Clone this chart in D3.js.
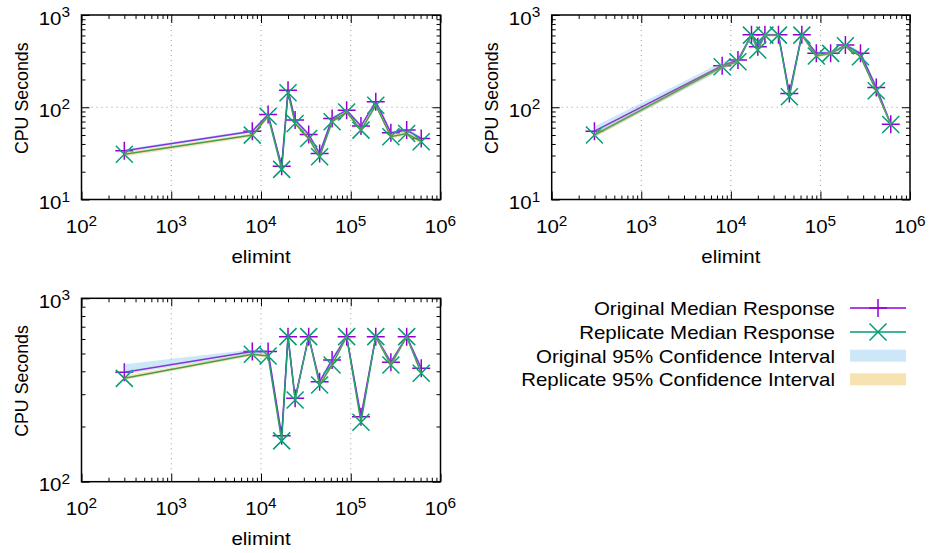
<!DOCTYPE html>
<html><head><meta charset="utf-8">
<script src="https://cdn.jsdelivr.net/npm/d3@7"></script>
<style>
body{margin:0;background:#fff}
svg{display:block}
text{font-family:"Liberation Sans",Arial,Helvetica,sans-serif;fill:#000}
</style>
</head><body>
<svg id="c" width="930" height="553"></svg>
<script>
// ---------------- data ----------------
const elimint = [300, 8000, 12000, 17000, 20000, 24000, 34000, 45000, 62000, 90000, 130000, 190000, 280000, 420000, 610000];

// panel 1 (top left)
const orig1   = [33.7, 55, 83.6, 23, 153, 72.6, 50.7, 31.5, 75.6, 93, 62.5, 115, 52.8, 56.5, 45.9];
const repl1   = [31.0, 49.9, 80, 21.2, 143.5, 66.8, 45.9, 29, 69.7, 89, 56.5, 105, 47.9, 52, 42.3];
const origLo1 = [32.5, 53, 80, 22, 147, 69.5, 48.5, 30.2, 72.5, 89.5, 60, 110, 50.5, 54, 44];
const origHi1 = [35, 57, 87, 24, 159, 75.5, 53, 33, 79, 96.5, 65, 120, 55, 59, 48];
const replLo1 = [29.3, 47.5, 77, 20.3, 137, 63.5, 43.5, 27.8, 66.5, 85, 54, 100, 45.5, 49.5, 40];
const replHi1 = [32.5, 52, 83, 22.2, 150, 70, 48.5, 30.3, 73, 93, 59, 110, 50.5, 54.5, 44.5];

// panel 2 (top right)
const orig2   = [55, 282, 325, 610, 453, 610, 610, 141, 610, 384, 384, 473, 384, 164, 65.6];
const repl2   = [50, 275, 312, 605, 417, 605, 605, 130, 605, 359, 384, 464, 353, 151, 65];
const origLo2 = [48, 255, 305, 590, 425, 590, 590, 132, 590, 362, 365, 450, 362, 152, 61];
const origHi2 = [62, 310, 345, 630, 480, 630, 630, 150, 630, 405, 402, 495, 405, 176, 70];
const replLo2 = [47, 262, 298, 585, 400, 585, 585, 123, 585, 345, 370, 448, 340, 143, 62];
const replHi2 = [53, 290, 326, 620, 435, 620, 620, 137, 620, 373, 398, 480, 367, 159, 68];

// panel 3 (bottom left)
const orig3   = [395, 512, 512, 178, 618, 285, 618, 351, 461, 618, 226, 618, 448, 618, 415];
const repl3   = [366, 495, 485, 167, 618, 279, 618, 337, 433, 618, 211, 618, 433, 618, 390];
const origLo3 = [385, 495, 500, 172, 605, 276, 605, 340, 445, 605, 219, 605, 435, 605, 402];
const origHi3 = [437, 525, 524, 184, 631, 294, 631, 362, 477, 631, 233, 631, 461, 631, 428];
const replLo3 = [358, 484, 474, 162, 605, 272, 605, 329, 422, 605, 205, 605, 420, 605, 380];
const replHi3 = [378, 505, 496, 172, 631, 287, 631, 346, 445, 631, 218, 631, 446, 631, 401];

// ticks & labels
const xMajor = [1e2, 1e3, 1e4, 1e5, 1e6];
const xExp   = ["2", "3", "4", "5", "6"];
const yMajorA = [1e1, 1e2, 1e3];
const yExpA   = ["1", "2", "3"];
const yMajorB = [1e2, 1e3];
const yExpB   = ["2", "3"];
const xTitle = "elimint";
const yTitle = "CPU Seconds";
const legendLabels = ["Original Median Response", "Replicate Median Response",
                      "Original 95% Confidence Interval", "Replicate 95% Confidence Interval"];

// ---------------- style ----------------
const C_ORIG = "#9400d3", C_REPL = "#009e73";
const C_OBAND = "#56b4e9", C_RBAND = "#e69f00";
const K = 1.1, FS = 18.6;

const svg = d3.select("#c");

const panels = [
  {o: orig1, r: repl1, oLo: origLo1, oHi: origHi1, rLo: replLo1, rHi: replHi1,
   yMaj: yMajorA, yExp: yExpA, ydom: [10, 1000], box: [81.5, 440.5, 15, 199.5]},
  {o: orig2, r: repl2, oLo: origLo2, oHi: origHi2, rLo: replLo2, rHi: replHi2,
   yMaj: yMajorA, yExp: yExpA, ydom: [10, 1000], box: [551.7, 910, 15, 199.5]},
  {o: orig3, r: repl3, oLo: origLo3, oHi: origHi3, rLo: replLo3, rHi: replHi3,
   yMaj: yMajorB, yExp: yExpB, ydom: [100, 1000], box: [81.5, 440.5, 298.3, 481.7]}
];

function sText(g, x, y, anchor, str) {
  const t = g.append("text")
    .attr("transform", `translate(${x},${y}) scale(${K},1)`)
    .attr("text-anchor", anchor)
    .style("font-size", FS + "px");
  if (str !== undefined) t.text(str);
  return t;
}
function powLabel(g, x, y, exp, anchor) {
  const t = sText(g, x, y, anchor);
  t.append("tspan").text("10");
  t.append("tspan").attr("dy", -7.5).style("font-size", "14px").text(exp);
}

const plusPath = "M-9,0H9M0,-9V9";
const crossPath = "M-8.5,-8.5L8.5,8.5M-8.5,8.5L8.5,-8.5";

panels.forEach(p => {
  const [x0, x1, y0, y1] = p.box;
  const x = d3.scaleLog().domain([100, 1e6]).range([x0, x1]);
  const y = d3.scaleLog().domain(p.ydom).range([y1, y0]);
  const g = svg.append("g");

  // grid
  const gx = xMajor.filter(v => v > 100 && v < 1e6);
  const gy = p.yMaj.filter(v => v > p.ydom[0] && v < p.ydom[1]);
  g.selectAll(null).data(gx).join("line")
    .attr("x1", d => x(d)).attr("x2", d => x(d)).attr("y1", y0).attr("y2", y1)
    .attr("stroke", "#999").attr("stroke-width", 1).attr("stroke-dasharray", "1,4");
  g.selectAll(null).data(gy).join("line")
    .attr("y1", d => y(d)).attr("y2", d => y(d)).attr("x1", x0).attr("x2", x1)
    .attr("stroke", "#999").attr("stroke-width", 1).attr("stroke-dasharray", "1,4");

  const line = d3.line().x(d => x(d[0])).y(d => y(d[1]));
  const area = d3.area().x(d => x(d[0])).y0(d => y(d[1])).y1(d => y(d[2]));

  const oPts = elimint.map((e, i) => [e, p.o[i]]);
  const rPts = elimint.map((e, i) => [e, p.r[i]]);

  // lines
  g.append("path").attr("d", line(oPts)).attr("fill", "none")
    .attr("stroke", C_ORIG).attr("stroke-width", 1.5);
  g.selectAll(null).data(oPts).join("path")
    .attr("transform", d => `translate(${x(d[0])},${y(d[1])})`)
    .attr("d", plusPath).attr("stroke", C_ORIG).attr("stroke-width", 1.5).attr("fill", "none");
  g.append("path").attr("d", line(rPts)).attr("fill", "none")
    .attr("stroke", C_REPL).attr("stroke-width", 1.5);
  g.selectAll(null).data(rPts).join("path")
    .attr("transform", d => `translate(${x(d[0])},${y(d[1])})`)
    .attr("d", crossPath).attr("stroke", C_REPL).attr("stroke-width", 1.5).attr("fill", "none");

  // confidence bands (drawn after lines, semi-transparent)
  g.append("path").attr("d", area(elimint.map((e, i) => [e, p.oLo[i], p.oHi[i]])))
    .attr("fill", C_OBAND).attr("fill-opacity", 0.3);
  g.append("path").attr("d", area(elimint.map((e, i) => [e, p.rLo[i], p.rHi[i]])))
    .attr("fill", C_RBAND).attr("fill-opacity", 0.3);

  // ticks via axes (inward, mirrored)
  const xAll = x.ticks(), yAll = y.ticks();
  const isPow = v => Math.abs(Math.log10(v) - Math.round(Math.log10(v))) < 1e-9;
  const xMin = xAll.filter(v => !isPow(v)), yMin = yAll.filter(v => !isPow(v));
  const mk = (axisFn, scale, vals, len, tr) => {
    const a = g.append("g").attr("transform", tr)
      .call(axisFn(scale).tickValues(vals).tickSize(-len).tickFormat(""));
    a.select(".domain").remove();
    a.selectAll("line").attr("stroke", "#000").attr("stroke-width", 1);
  };
  mk(d3.axisBottom, x, xMajor, 8, `translate(0,${y1})`);
  mk(d3.axisBottom, x, xMin, 4, `translate(0,${y1})`);
  mk(d3.axisTop, x, xMajor, 8, `translate(0,${y0})`);
  mk(d3.axisTop, x, xMin, 4, `translate(0,${y0})`);
  mk(d3.axisLeft, y, p.yMaj, 8, `translate(${x0},0)`);
  mk(d3.axisLeft, y, yMin, 4, `translate(${x0},0)`);
  mk(d3.axisRight, y, p.yMaj, 8, `translate(${x1},0)`);
  mk(d3.axisRight, y, yMin, 4, `translate(${x1},0)`);

  // border
  g.append("rect").attr("x", x0).attr("y", y0).attr("width", x1 - x0).attr("height", y1 - y0)
    .attr("fill", "none").attr("stroke", "#000").attr("stroke-width", 1.5);

  // tick labels
  xMajor.forEach((v, i) => powLabel(g, x(v), y1 + 33.5, xExp[i], "middle"));
  p.yMaj.forEach((v, i) => powLabel(g, x0 - 11.5, y(v) + 9.5, p.yExp[i], "end"));

  // axis titles
  sText(g, (x0 + x1) / 2, y1 + 63.5, "middle", xTitle);
  g.append("text")
    .attr("transform", `translate(${x0 - 53.5},${(y0 + y1) / 2 - 9}) rotate(-90)`)
    .attr("text-anchor", "middle").style("font-size", "17.8px").text(yTitle);
});

// ---------------- legend ----------------
const lg = svg.append("g");
const rowY = [308, 332, 355.7, 379.3];
const sx0 = 850, sx1 = 906, tx = 835;
legendLabels.forEach((lab, i) => sText(lg, tx, rowY[i] + 7, "end", lab));
lg.append("line").attr("x1", sx0).attr("x2", sx1).attr("y1", rowY[0]).attr("y2", rowY[0])
  .attr("stroke", C_ORIG).attr("stroke-width", 1.5);
lg.append("path").attr("transform", `translate(${(sx0 + sx1) / 2},${rowY[0]})`)
  .attr("d", plusPath).attr("stroke", C_ORIG).attr("stroke-width", 1.5);
lg.append("line").attr("x1", sx0).attr("x2", sx1).attr("y1", rowY[1]).attr("y2", rowY[1])
  .attr("stroke", C_REPL).attr("stroke-width", 1.5);
lg.append("path").attr("transform", `translate(${(sx0 + sx1) / 2},${rowY[1]})`)
  .attr("d", crossPath).attr("stroke", C_REPL).attr("stroke-width", 1.5);
lg.append("rect").attr("x", sx0).attr("y", rowY[2] - 6).attr("width", sx1 - sx0).attr("height", 12)
  .attr("fill", C_OBAND).attr("fill-opacity", 0.3);
lg.append("rect").attr("x", sx0).attr("y", rowY[3] - 6).attr("width", sx1 - sx0).attr("height", 12)
  .attr("fill", C_RBAND).attr("fill-opacity", 0.3);
</script>
</body></html>
